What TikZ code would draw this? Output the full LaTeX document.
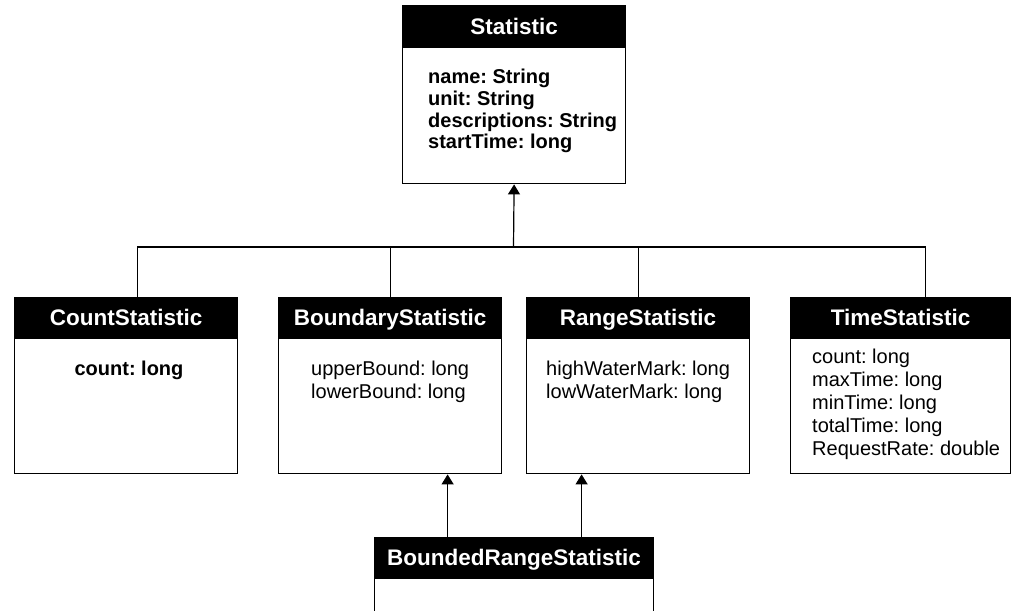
\documentclass[tikz,border=0pt]{standalone}
\usepackage{fontspec}
\setmainfont{Liberation Sans}
\usetikzlibrary{arrows.meta}
\frenchspacing
\begin{document}
\begin{tikzpicture}[x=1pt,y=-1pt,
  hdr/.style={draw=black, fill=black, text=white, line width=1.2pt, inner sep=0pt,
    anchor=north west, font=\fontsize{22.5}{27}\selectfont\bfseries,
    text height=16.2pt, text depth=0pt},
  bodybox/.style={draw=black, line width=1.2pt, inner sep=0pt, anchor=north west},
  attr/.style={inner sep=0pt, anchor=north west, align=left,
    font=\fontsize{20}{23}\selectfont\frenchspacing},
  battr/.style={inner sep=0pt, anchor=north west, align=left,
    font=\fontsize{20}{21.7}\selectfont\bfseries\frenchspacing},
  conn/.style={line width=1.2pt},
  arr/.style={line width=1.2pt, -{Triangle[width=12pt,length=10pt]}}]
\useasboundingbox (0,0) rectangle (1011,610);
\clip (0,0) rectangle (1011,610);

% Statistic
\node[hdr, minimum width=223pt, minimum height=41pt] (statH) at (402,5) {Statistic};
\node[bodybox, minimum width=223pt, minimum height=136pt] (stat) at (statH.south west) {};
\node[battr] (statA) at (428,69) {name: String\\unit: String\\descriptions: String\\startTime: long};

% CountStatistic
\node[hdr, minimum width=223pt, minimum height=40pt] (countH) at (14,297) {CountStatistic};
\node[bodybox, minimum width=223pt, minimum height=135pt] (count) at (countH.south west) {};
\node[battr, anchor=north] (countA) at (129,361) {count: long};

% BoundaryStatistic
\node[hdr, minimum width=223pt, minimum height=40pt] (boundH) at (278,297) {BoundaryStatistic};
\node[bodybox, minimum width=223pt, minimum height=135pt] (bound) at (boundH.south west) {};
\node[attr] (boundA) at (311,361) {upperBound: long\\lowerBound: long};

% RangeStatistic
\node[hdr, minimum width=223pt, minimum height=40pt] (rangeH) at (526,297) {RangeStatistic};
\node[bodybox, minimum width=223pt, minimum height=135pt] (range) at (rangeH.south west) {};
\node[attr] (rangeA) at (546,361) {highWaterMark: long\\lowWaterMark: long};

% TimeStatistic
\node[hdr, minimum width=220pt, minimum height=40pt] (timeH) at (790,297) {TimeStatistic};
\node[bodybox, minimum width=220pt, minimum height=135pt] (time) at (timeH.south west) {};
\node[attr, font=\fontsize{20}{22.9}\selectfont\frenchspacing] (timeA) at (812,349) {count: long\\maxTime: long\\minTime: long\\totalTime: long\\RequestRate: double};

% BoundedRangeStatistic
\node[hdr, minimum width=279pt, minimum height=40pt] (bndH) at (374,537) {BoundedRangeStatistic};
\node[bodybox, minimum width=279pt, minimum height=60pt] (bnd) at (bndH.south west) {};

% generalisation tree
\coordinate (bus) at (513.5,247);
\draw[arr] (bus) -- (stat.south);
\draw[conn] ([xshift=11.5pt]countH.north) |- (bus);
\draw[conn] (boundH.north) |- (bus);
\draw[conn] (rangeH.north) |- (bus);
\draw[conn] ([xshift=25pt]timeH.north) |- (bus);

% BoundedRangeStatistic arrows
\coordinate (b1) at ([xshift=-66.5pt]bndH.north);
\coordinate (b2) at ([xshift=67.5pt]bndH.north);
\draw[arr] (b1) -- (b1 |- bound.south);
\draw[arr] (b2) -- (b2 |- range.south);
\end{tikzpicture}
\end{document}
